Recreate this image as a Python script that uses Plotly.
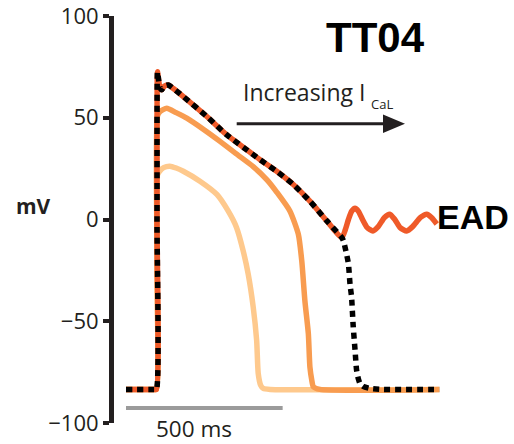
import plotly.graph_objects as go

# ---------------- data (time in ms, membrane potential in mV) ----------------
low_t = [0, 90, 97, 99, 100.5, 106, 120, 140, 160, 183, 236, 290, 326, 353, 374, 390,
         406, 417, 422, 430, 438, 460, 1000]
low_v = [-83.5, -83.5, -83.5, -20, 22, 23.5, 25.5, 26.2, 25.3, 23.7, 18.8, 12.3, 4.2, -4,
         -15.4, -26.8, -43, -59.4, -75.6, -81.5, -83, -83.5, -83.5]

mid_t = [0, 90, 97, 99, 100.5, 108, 130, 160, 194, 250, 300, 350, 406, 450, 481, 523,
         550, 561, 571, 582, 587, 593, 598, 619, 1000]
mid_v = [-83.5, -83.5, -83.5, -20, 51, 53, 54.7, 52.5, 49.8, 44, 38.4, 32.5, 26, 19.5,
         13.5, 4.2, -7.2, -20.3, -39.9, -56.1, -72.5, -79, -82.2, -83.5, -83.5]

plat_t = [0, 90, 97, 99, 100.5, 103, 108, 114, 122, 135, 150, 183, 258, 321, 405, 428,
          481, 534, 587, 641, 689]
plat_v = [-83.5, -83.5, -83.5, 0, 72.6, 70, 65, 63.7, 65.5, 66.1, 64.5, 60.4, 50.6, 41.7,
          32, 29.4, 23.7, 17.2, 9, -0.7, -8.9]

ead_t = [700, 710, 720, 731, 742, 755, 770, 788, 805, 825, 842, 858, 875, 896, 915, 940,
         960, 975, 992]
ead_v = [-5, 0, 4, 5.5, 4, 0, -4, -5.6, -3.5, 1, 2.6, 0, -4, -5.6, -3.5, 1, 2.6, 1, -2.2]

blk_t = [694, 704, 710, 715, 720, 725, 731, 736, 742, 747, 757, 779, 820, 1000]
blk_v = [-10.5, -17, -21.9, -31.7, -38.2, -52, -64, -74, -78.5, -80.6, -82, -83, -83.5, -83.5]

y_ticks = [-100, -50, 0, 50, 100]
scale_len = 500  # ms

# ---------------- pixel helpers for decorations ----------------
W, H = 514, 444
ML, MR, MT, MB = 114, 0, 14, 21
PX_PER_MS = 0.3133
X0PX = 126
Y0PX = 218.5
PX_PER_MV = 2.045


def T(px):
    return (px - X0PX) / PX_PER_MS


def V(py):
    return (Y0PX - py) / PX_PER_MV


def PX(px):
    return (px - ML) / (W - ML - MR)


def PY(py):
    return (H - MB - py) / (H - MT - MB)


LIGHT = "#FEC98D"
MID = "#F89C50"
RED = "#EF5A29"
DARK = "#231F20"
SM = 0.6

fig = go.Figure()
fig.add_trace(go.Scatter(x=low_t, y=low_v, mode="lines",
                         line=dict(color=LIGHT, width=5.5, shape="spline", smoothing=SM),
                         hoverinfo="skip"))
fig.add_trace(go.Scatter(x=mid_t, y=mid_v, mode="lines",
                         line=dict(color=MID, width=5.5, shape="spline", smoothing=SM),
                         hoverinfo="skip"))
fig.add_trace(go.Scatter(x=plat_t + ead_t, y=plat_v + ead_v, mode="lines",
                         line=dict(color=RED, width=5.5, shape="spline", smoothing=SM),
                         hoverinfo="skip"))
fig.add_trace(go.Scatter(x=plat_t + blk_t, y=plat_v + blk_v, mode="lines",
                         line=dict(color="#000000", width=5.5, dash="6px,5px",
                                   shape="spline", smoothing=SM),
                         hoverinfo="skip"))

shapes = [
    # scale bar
    dict(type="line", xref="x", yref="y", x0=0, x1=scale_len, y0=V(408), y1=V(408),
         line=dict(color="#9B9B9B", width=4)),
    # arrow shaft
    dict(type="line", xref="x", yref="y", x0=T(236.7), x1=T(386), y0=V(122.3), y1=V(122.3),
         line=dict(color=DARK, width=3)),
    # arrow head
    dict(type="path", xref="x", yref="y",
         path=f"M {T(383)},{V(113)} L {T(405)},{V(122.3)} L {T(383)},{V(131.6)} Z",
         fillcolor=DARK, line=dict(color=DARK, width=0)),
]

annotations = [
    dict(text="<b>TT04</b>", x=PX(375), y=PY(36), xref="paper", yref="paper",
         showarrow=False, xanchor="center", yanchor="middle",
         font=dict(family="Liberation Sans, Arial", size=42, color="#000000")),
    dict(text="<b>EAD</b>", x=PX(435), y=PY(216), xref="paper", yref="paper",
         showarrow=False, xanchor="left", yanchor="middle",
         font=dict(family="Liberation Sans, Arial", size=34, color="#000000")),
    dict(text="<b>mV</b>", x=PX(33), y=PY(205), xref="paper", yref="paper",
         showarrow=False, xanchor="center", yanchor="middle",
         font=dict(family="Open Sans", size=21, color=DARK)),
    dict(text="Increasing I", x=PX(241), y=PY(90), xref="paper", yref="paper",
         showarrow=False, xanchor="left", yanchor="middle",
         font=dict(family="Open Sans", size=23, color=DARK)),
    dict(text="CaL", x=PX(369), y=PY(102), xref="paper", yref="paper",
         showarrow=False, xanchor="left", yanchor="middle",
         font=dict(family="Open Sans", size=13, color=DARK)),
    dict(text="500 ms", x=PX(194), y=PY(428.5), xref="paper", yref="paper",
         showarrow=False, xanchor="center", yanchor="middle",
         font=dict(family="Open Sans", size=22.5, color=DARK)),
]

fig.update_layout(
    width=W, height=H,
    margin=dict(l=ML, r=MR, t=MT, b=MB, pad=0),
    paper_bgcolor="white", plot_bgcolor="white",
    showlegend=False,
    shapes=shapes,
    annotations=annotations,
    xaxis=dict(range=[T(ML), T(W - MR)], visible=False, fixedrange=True),
    yaxis=dict(range=[-100, 100], tickvals=y_ticks,
               showline=True, linewidth=5, linecolor=DARK,
               ticks="outside", ticklen=6, tickwidth=4, tickcolor=DARK,
               showgrid=False, zeroline=False, ticklabeloverflow="allow",
               tickfont=dict(family="Open Sans", size=22, color=DARK),
               fixedrange=True),
)

fig.write_html("out.html")
